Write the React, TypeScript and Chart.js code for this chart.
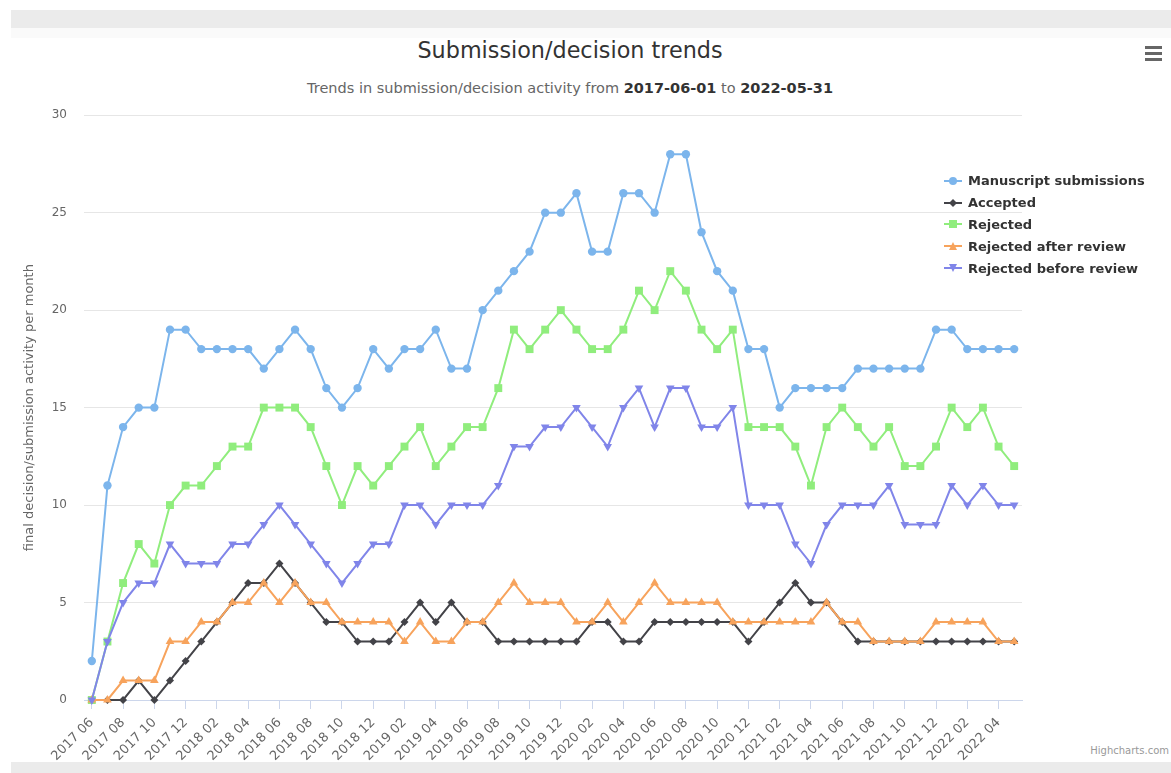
import React, { useEffect, useRef } from "react";
import { Chart, registerables } from "chart.js";

Chart.register(...registerables);

const months = [
  "2017 06", "2017 07", "2017 08", "2017 09", "2017 10", "2017 11", "2017 12",
  "2018 01", "2018 02", "2018 03", "2018 04", "2018 05", "2018 06", "2018 07", "2018 08", "2018 09", "2018 10", "2018 11", "2018 12",
  "2019 01", "2019 02", "2019 03", "2019 04", "2019 05", "2019 06", "2019 07", "2019 08", "2019 09", "2019 10", "2019 11", "2019 12",
  "2020 01", "2020 02", "2020 03", "2020 04", "2020 05", "2020 06", "2020 07", "2020 08", "2020 09", "2020 10", "2020 11", "2020 12",
  "2021 01", "2021 02", "2021 03", "2021 04", "2021 05", "2021 06", "2021 07", "2021 08", "2021 09", "2021 10", "2021 11", "2021 12",
  "2022 01", "2022 02", "2022 03", "2022 04", "2022 05",
];

const submissions = [
  2, 11, 14, 15, 15, 19, 19,
  18, 18, 18, 18, 17, 18, 19, 18, 16, 15, 16, 18,
  17, 18, 18, 19, 17, 17, 20, 21, 22, 23, 25, 25,
  26, 23, 23, 26, 26, 25, 28, 28, 24, 22, 21, 18,
  18, 15, 16, 16, 16, 16, 17, 17, 17, 17, 17, 19,
  19, 18, 18, 18, 18,
];

const accepted = [
  0, 0, 0, 1, 0, 1, 2,
  3, 4, 5, 6, 6, 7, 6, 5, 4, 4, 3, 3,
  3, 4, 5, 4, 5, 4, 4, 3, 3, 3, 3, 3,
  3, 4, 4, 3, 3, 4, 4, 4, 4, 4, 4, 3,
  4, 5, 6, 5, 5, 4, 3, 3, 3, 3, 3, 3,
  3, 3, 3, 3, 3,
];

const rejected = [
  0, 3, 6, 8, 7, 10, 11,
  11, 12, 13, 13, 15, 15, 15, 14, 12, 10, 12, 11,
  12, 13, 14, 12, 13, 14, 14, 16, 19, 18, 19, 20,
  19, 18, 18, 19, 21, 20, 22, 21, 19, 18, 19, 14,
  14, 14, 13, 11, 14, 15, 14, 13, 14, 12, 12, 13,
  15, 14, 15, 13, 12,
];

const rejectedAfterReview = [
  0, 0, 1, 1, 1, 3, 3,
  4, 4, 5, 5, 6, 5, 6, 5, 5, 4, 4, 4,
  4, 3, 4, 3, 3, 4, 4, 5, 6, 5, 5, 5,
  4, 4, 5, 4, 5, 6, 5, 5, 5, 5, 4, 4,
  4, 4, 4, 4, 5, 4, 4, 3, 3, 3, 3, 4,
  4, 4, 4, 3, 3,
];

const rejectedBeforeReview = [
  0, 3, 5, 6, 6, 8, 7,
  7, 7, 8, 8, 9, 10, 9, 8, 7, 6, 7, 8,
  8, 10, 10, 9, 10, 10, 10, 11, 13, 13, 14, 14,
  15, 14, 13, 15, 16, 14, 16, 16, 14, 14, 15, 10,
  10, 10, 8, 7, 9, 10, 10, 10, 11, 9, 9, 9,
  11, 10, 11, 10, 10,
];

const seriesNames = [
  "Manuscript submissions",
  "Accepted",
  "Rejected",
  "Rejected after review",
  "Rejected before review",
];
const seriesColors = ["#7cb5ec", "#434348", "#90ed7d", "#f7a35c", "#8085e9"];
const seriesData = [submissions, accepted, rejected, rejectedAfterReview, rejectedBeforeReview];
const seriesMarkers = ["circle", "rectRot", "rect", "triangle", "triangle"];
const seriesMarkerRotation = [0, 0, 0, 0, 180];
const seriesMarkerRadius = [4.2, 4, 5.6, 5, 5];

const FONT = "'DejaVu Sans', 'Liberation Sans', sans-serif";

function LegendSymbol({ i }: { i: number }) {
  const c = seriesColors[i];
  const m = seriesMarkers[i];
  let marker: any = null;
  if (m === "circle") marker = <circle cx={9} cy={6} r={4} fill={c} />;
  else if (m === "rectRot") marker = <polygon points="9,2 13,6 9,10 5,6" fill={c} />;
  else if (m === "rect") marker = <rect x={5} y={2} width={8} height={8} fill={c} />;
  else if (seriesMarkerRotation[i] === 180) marker = <polygon points="5,2 13,2 9,10" fill={c} />;
  else marker = <polygon points="9,2 13,10 5,10" fill={c} />;
  return (
    <svg width={18} height={12} style={{ display: "block" }}>
      <line x1={0} y1={6} x2={18} y2={6} stroke={c} strokeWidth={2} />
      {marker}
    </svg>
  );
}

export default function App() {
  const canvasRef = useRef<HTMLCanvasElement | null>(null);

  useEffect(() => {
    const canvas = canvasRef.current;
    if (!canvas) return;
    const datasets = seriesNames.map((name, i) => ({
      label: name,
      data: seriesData[i],
      borderColor: seriesColors[i],
      backgroundColor: seriesColors[i],
      borderWidth: 2,
      tension: 0,
      pointStyle: seriesMarkers[i] as any,
      pointRotation: seriesMarkerRotation[i],
      pointRadius: seriesMarkerRadius[i],
      pointBackgroundColor: seriesColors[i],
      pointBorderWidth: 0,
      pointHoverRadius: seriesMarkerRadius[i],
      clip: false as any,
      order: seriesNames.length - 1 - i,
      fill: false,
    }));

    const chart = new Chart(canvas, {
      type: "line",
      data: { labels: months, datasets },
      options: {
        responsive: false,
        animation: false,
        layout: { padding: { top: 14, right: 18, bottom: 0, left: 0 } },
        plugins: {
          legend: { display: false },
          title: { display: false },
          tooltip: { enabled: false },
        },
        scales: {
          x: {
            type: "category",
            offset: true,
            grid: {
              offset: false,
              drawOnChartArea: false,
              drawTicks: true,
              tickLength: 9,
              color: "#ccd6eb",
            },
            border: { display: true, color: "#ccd6eb", width: 1 },
            ticks: {
              autoSkip: false,
              minRotation: 45,
              maxRotation: 45,
              padding: 6,
              color: "#666666",
              font: { family: FONT, size: 13 },
            },
            afterBuildTicks: (scale: any) => {
              scale.ticks = scale.ticks.filter((_t: any, idx: number) => idx % 2 === 0);
            },
            afterFit: (scale: any) => {
              scale.height = 65;
            },
          },
          y: {
            min: 0,
            max: 30,
            ticks: {
              stepSize: 5,
              padding: 17,
              color: "#666666",
              font: { family: FONT, size: 12 },
            },
            grid: { color: "#e6e6e6", drawTicks: false },
            border: { display: false },
            title: {
              display: true,
              text: "final decision/submission activity per month",
              color: "#666666",
              font: { family: FONT, size: 13 },
              padding: { top: 22, bottom: 0 },
            },
            afterFit: (scale: any) => {
              scale.width = 84;
            },
          },
        },
      },
    });
    return () => chart.destroy();
  }, []);

  return (
    <div
      style={{
        position: "absolute",
        left: 0,
        top: 0,
        width: 1171,
        height: 773,
        overflow: "hidden",
        background: "#ffffff",
        fontFamily: FONT,
      }}
    >
      <div style={{ position: "absolute", left: 11, top: 10, width: 1160, height: 18, background: "#ebebeb" }} />
      <div style={{ position: "absolute", left: 11, top: 28, width: 1160, height: 10, background: "#fafafa" }} />
      <div style={{ position: "absolute", left: 11, top: 762, width: 1160, height: 11, background: "#ebebeb" }} />

      <div
        style={{
          position: "absolute",
          left: 270,
          width: 600,
          top: 37,
          textAlign: "center",
          fontSize: 22.3,
          lineHeight: "26px",
          color: "#333333",
        }}
      >
        Submission/decision trends
      </div>
      <div
        style={{
          position: "absolute",
          left: 170,
          width: 800,
          top: 79,
          textAlign: "center",
          fontSize: 14.5,
          lineHeight: "18px",
          color: "#666666",
        }}
      >
        Trends in submission/decision activity from <b style={{ color: "#333333" }}>2017-06-01</b> to{" "}
        <b style={{ color: "#333333" }}>2022-05-31</b>
      </div>

      <div style={{ position: "absolute", left: 1145, top: 46, width: 17, height: 17 }}>
        <div style={{ position: "absolute", left: 0, top: 0, width: 17, height: 3, background: "#666" }} />
        <div style={{ position: "absolute", left: 0, top: 6, width: 17, height: 3, background: "#666" }} />
        <div style={{ position: "absolute", left: 0, top: 12, width: 17, height: 3, background: "#666" }} />
      </div>

      <canvas
        ref={canvasRef}
        width={1040}
        height={674}
        style={{ position: "absolute", left: 0, top: 91, width: 1040, height: 674, display: "block" }}
      />

      <div style={{ position: "absolute", left: 944, top: 170 }}>
        {seriesNames.map((name, i) => (
          <div
            key={name}
            style={{ display: "flex", alignItems: "center", height: 21.8, whiteSpace: "nowrap" }}
          >
            <LegendSymbol i={i} />
            <span
              style={{
                marginLeft: 6,
                fontSize: 13,
                fontWeight: "bold",
                color: "#333333",
              }}
            >
              {name}
            </span>
          </div>
        ))}
      </div>

      <div
        style={{
          position: "absolute",
          right: 2,
          top: 745,
          fontSize: 10,
          color: "#999999",
        }}
      >
        Highcharts.com
      </div>
    </div>
  );
}
